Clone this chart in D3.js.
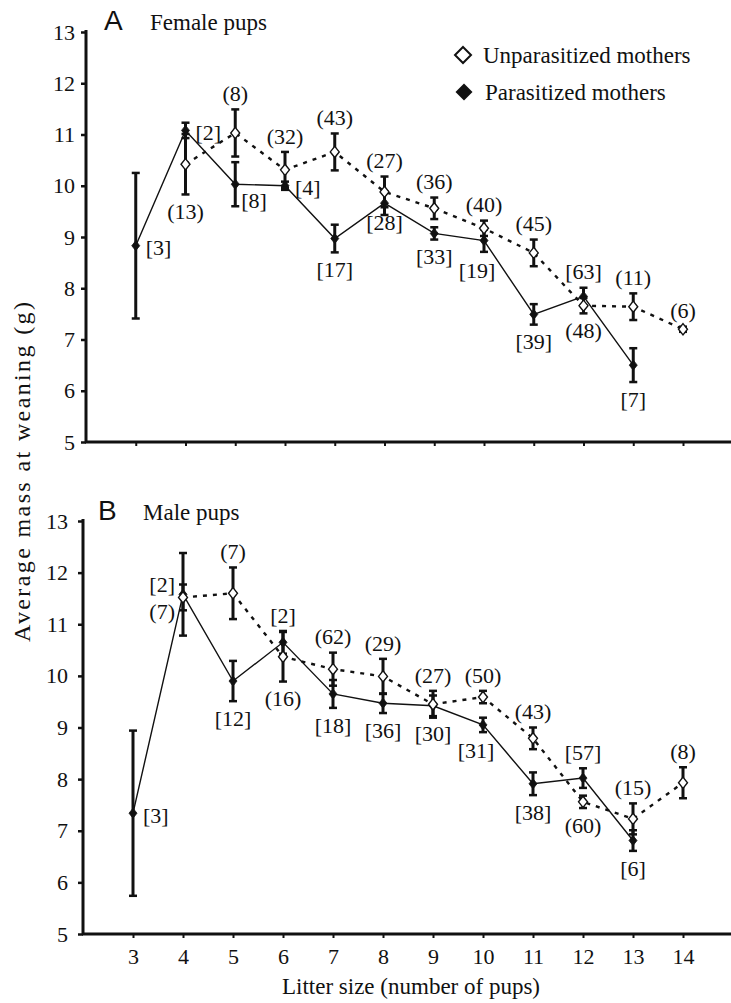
<!DOCTYPE html>
<html>
<head>
<meta charset="utf-8">
<script src="https://cdn.jsdelivr.net/npm/d3@7/dist/d3.min.js"></script>
<style>
  html, body { margin: 0; padding: 0; background: #fff; }
  svg { display: block; }
</style>
</head>
<body>
<svg id="chart" width="731" height="1003"></svg>
<script>
// ---------------- data ----------------
const litterTicks = [3, 4, 5, 6, 7, 8, 9, 10, 11, 12, 13, 14];
const yTicks = [5, 6, 7, 8, 9, 10, 11, 12, 13];

const unparLitter = [4, 5, 6, 7, 8, 9, 10, 11, 12, 13, 14];
const parLitter = [3, 4, 5, 6, 7, 8, 9, 10, 11, 12, 13];

// Panel A: female pups
const femaleUnparMean = [10.42, 11.03, 10.31, 10.66, 9.88, 9.56, 9.17, 8.69, 7.66, 7.64, 7.20];
const femaleUnparErr  = [0.59, 0.46, 0.35, 0.36, 0.30, 0.21, 0.15, 0.26, 0.15, 0.26, 0.05];
const femaleUnparN    = ["(13)", "(8)", "(32)", "(43)", "(27)", "(36)", "(40)", "(45)", "(48)", "(11)", "(6)"];
const femaleUnparPos  = ["b", "t", "t", "t", "t", "t", "t", "t", "b", "t", "t"];

const femaleParMean = [8.83, 11.08, 10.03, 10.00, 8.97, 9.66, 9.07, 8.93, 7.49, 7.84, 6.50];
const femaleParErr  = [1.42, 0.15, 0.43, 0.08, 0.27, 0.23, 0.12, 0.22, 0.20, 0.17, 0.33];
const femaleParN    = ["[3]", "[2]", "[8]", "[4]", "[17]", "[28]", "[33]", "[19]", "[39]", "[63]", "[7]"];
const femaleParPos  = ["r", "r", "br", "r", "b", "bn", "b", "bl", "b", "t", "b"];

// Panel B: male pups
const maleUnparMean = [11.52, 11.60, 10.37, 10.13, 9.99, 9.45, 9.59, 8.79, 7.56, 7.23, 7.93];
const maleUnparErr  = [0.25, 0.50, 0.48, 0.32, 0.34, 0.26, 0.12, 0.21, 0.12, 0.30, 0.30];
const maleUnparN    = ["(7)", "(7)", "(16)", "(62)", "(29)", "(27)", "(50)", "(43)", "(60)", "(15)", "(8)"];
const maleUnparPos  = ["lb", "t", "b", "t", "t", "t", "t", "t", "b", "t", "t"];

const maleParMean = [7.34, 11.58, 9.90, 10.65, 9.65, 9.47, 9.42, 9.05, 7.91, 8.02, 6.81];
const maleParErr  = [1.60, 0.80, 0.39, 0.22, 0.27, 0.19, 0.20, 0.14, 0.22, 0.19, 0.20];
const maleParN    = ["[3]", "[2]", "[12]", "[2]", "[18]", "[36]", "[30]", "[31]", "[38]", "[57]", "[6]"];
const maleParPos  = ["r", "lt", "b", "t", "b", "b", "b", "bl", "b", "t", "b"];

const legendLabels = ["Unparasitized mothers", "Parasitized mothers"];

// ---------------- font detection ----------------
function fontExists(name) {
  const c = document.createElement("canvas").getContext("2d");
  const s = "mmmmmmmmmmlliWWQ(0123456789)";
  let differs = false;
  ["monospace", "sans-serif", "cursive"].forEach(base => {
    c.font = `40px ${base}`;
    const w0 = c.measureText(s).width;
    c.font = `40px "${name}", ${base}`;
    const w1 = c.measureText(s).width;
    if (Math.abs(w1 - w0) > 0.5) differs = true;
  });
  return differs;
}
const serifCandidates = ["Liberation Serif", "Tinos", "Times New Roman", "DejaVu Serif", "Noto Serif",
  "FreeSerif", "Nimbus Roman", "Nimbus Roman No9 L", "Times", "Georgia", "Bitstream Vera Serif"];
const foundSerif = serifCandidates.find(fontExists);
const SERIF = foundSerif ? `"${foundSerif}", serif` : "serif";
const SANS = "'Liberation Sans', Arial, Helvetica, sans-serif";

// ---------------- drawing ----------------
const svg = d3.select("#chart");
const FS = 22;

function txt(sel) {
  return sel.style("font-family", SERIF).style("fill", "#111");
}

function panel(cfg) {
  const x = d3.scaleLinear().domain([2, 15]).range([cfg.left, cfg.left + 13 * cfg.unit]);
  const y = d3.scaleLinear().domain([5, 13]).range([cfg.bottom, cfg.top]);
  const g = svg.append("g");

  const yAxis = d3.axisLeft(y).tickValues(yTicks).tickSize(5).tickFormat(d3.format("d")).tickPadding(6);
  const ya = g.append("g").attr("transform", `translate(${cfg.left},0)`).call(yAxis);
  ya.attr("font-family", null);
  ya.select(".domain").attr("stroke", "#111").attr("stroke-width", 3).attr("d", `M0,${cfg.top - 2}V${cfg.bottom}`);
  ya.selectAll(".tick line").attr("stroke", "#111").attr("stroke-width", 2.5);
  txt(ya.selectAll(".tick text")).style("font-size", FS + "px").attr("dx", cfg.yLabelDx);

  const xAxis = d3.axisBottom(x).tickValues(litterTicks).tickSize(4).tickPadding(10)
    .tickFormat(cfg.showXLabels ? d3.format("d") : "");
  const xa = g.append("g").attr("transform", `translate(0,${cfg.bottom})`).call(xAxis);
  xa.attr("font-family", null);
  xa.select(".domain").attr("stroke", "#111").attr("stroke-width", 3).attr("d", `M${cfg.left - 1},0H731`);
  xa.selectAll(".tick line").attr("stroke", "#111").attr("stroke-width", 2);
  txt(xa.selectAll(".tick text")).style("font-size", FS + "px");

  g.append("text").attr("x", cfg.letterX).attr("y", cfg.titleY)
    .style("font-family", SANS).style("font-size", "28px").style("fill", "#111").text(cfg.letter);
  txt(g.append("text").attr("x", cfg.titleX).attr("y", cfg.titleY)).style("font-size", "23px").text(cfg.title);

  function series(xs, means, errs, labels, pos, open) {
    const pts = xs.map((v, i) => ({ x: v, m: means[i], e: errs[i], lab: labels[i], pos: pos[i] }));
    const line = d3.line().x(d => x(d.x)).y(d => y(d.m));
    g.append("path").datum(pts).attr("d", line).attr("fill", "none").attr("stroke", "#111")
      .attr("stroke-width", open ? 2.4 : 1.4)
      .attr("stroke-dasharray", open ? "4,6" : null);

    const eb = g.append("g").attr("stroke", "#111");
    pts.forEach(d => {
      const cx = x(d.x), y1 = y(d.m + d.e), y2 = y(d.m - d.e);
      eb.append("line").attr("x1", cx).attr("x2", cx).attr("y1", y1).attr("y2", y2).attr("stroke-width", 3);
      [y1, y2].forEach(yy => eb.append("line").attr("x1", cx - 4).attr("x2", cx + 4)
        .attr("y1", yy).attr("y2", yy).attr("stroke-width", 2.5));
    });

    pts.forEach(d => {
      const s = open ? 5.6 : 5;
      g.append("path")
        .attr("d", `M0,${-s}L${s * 0.8},0L0,${s}L${-s * 0.8},0Z`)
        .attr("transform", `translate(${x(d.x)},${y(d.m)})`)
        .attr("fill", open ? "#fff" : "#111").attr("stroke", "#111").attr("stroke-width", open ? 1.4 : 0.8);
    });

    pts.forEach(d => {
      const cx = x(d.x), cy = y(d.m), top = y(d.m + d.e), bot = y(d.m - d.e);
      let tx = cx, ty = cy, anchor = "middle";
      switch (d.pos) {
        case "t": ty = top - 16; break;
        case "b": ty = bot + 17; break;
        case "bn": ty = cy + 19; break;
        case "bl": tx = cx - 7; ty = bot + 18; break;
        case "r": tx = cx + 10; ty = cy + 2; anchor = "start"; break;
        case "br": tx = cx + 6; ty = cy + 16; anchor = "start"; break;
        case "lt": tx = cx - 8; ty = cy - 10; anchor = "end"; break;
        case "lb": tx = cx - 8; ty = cy + 14; anchor = "end"; break;
      }
      txt(g.append("text").attr("x", tx).attr("y", ty).attr("dy", "0.35em")
        .attr("text-anchor", anchor)).style("font-size", FS + "px").text(d.lab);
    });
  }

  series(parLitter, cfg.parMean, cfg.parErr, cfg.parN, cfg.parPos, false);
  series(unparLitter, cfg.unparMean, cfg.unparErr, cfg.unparN, cfg.unparPos, true);
}

panel({
  left: 86, unit: 49.75, top: 32, bottom: 442, yLabelDx: 0,
  letter: "A", letterX: 104, title: "Female pups", titleX: 150, titleY: 30,
  showXLabels: false,
  unparMean: femaleUnparMean, unparErr: femaleUnparErr, unparN: femaleUnparN, unparPos: femaleUnparPos,
  parMean: femaleParMean, parErr: femaleParErr, parN: femaleParN, parPos: femaleParPos
});

panel({
  left: 83, unit: 50, top: 521, bottom: 934, yLabelDx: -4,
  letter: "B", letterX: 98, title: "Male pups", titleX: 143, titleY: 520,
  showXLabels: true,
  unparMean: maleUnparMean, unparErr: maleUnparErr, unparN: maleUnparN, unparPos: maleUnparPos,
  parMean: maleParMean, parErr: maleParErr, parN: maleParN, parPos: maleParPos
});

// Legend
const leg = svg.append("g");
leg.append("path").attr("d", "M0,-8L8,0L0,8L-8,0Z").attr("transform", "translate(463,55)")
  .attr("fill", "#fff").attr("stroke", "#111").attr("stroke-width", 2);
txt(leg.append("text").attr("x", 483).attr("y", 63)).style("font-size", "23px").text(legendLabels[0]);
leg.append("path").attr("d", "M0,-8.5L8.5,0L0,8.5L-8.5,0Z").attr("transform", "translate(464,92)")
  .attr("fill", "#111");
txt(leg.append("text").attr("x", 485).attr("y", 100)).style("font-size", "23px").text(legendLabels[1]);

// Axis titles
txt(svg.append("text").attr("transform", "translate(30,472) rotate(-90)").attr("text-anchor", "middle"))
  .style("font-size", "24px").attr("textLength", 340).attr("lengthAdjust", "spacing")
  .text("Average mass at weaning (g)");
txt(svg.append("text").attr("x", 411).attr("y", 994).attr("text-anchor", "middle"))
  .style("font-size", "23px").text("Litter size (number of pups)");
</script>
</body>
</html>
